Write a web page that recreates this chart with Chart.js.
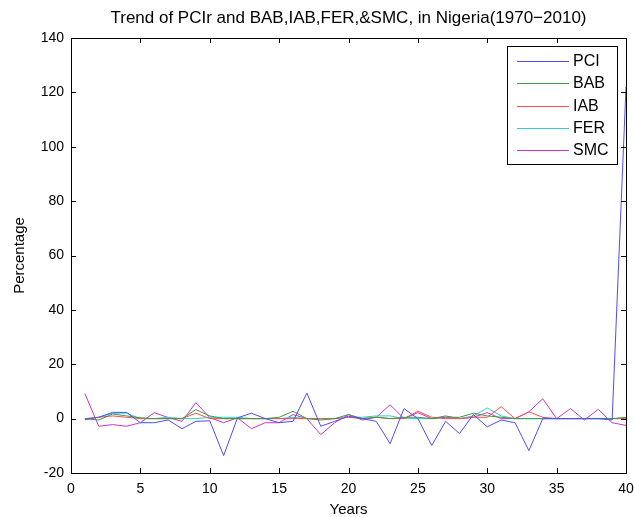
<!DOCTYPE html>
<html>
<head>
<meta charset="utf-8">
<script src="https://cdn.jsdelivr.net/npm/chart.js@4.4.1/dist/chart.umd.min.js"></script>
<style>
  html, body { margin: 0; padding: 0; background: #fff; }
  #wrap { width: 634px; height: 517px; position: relative; }
</style>
</head>
<body>
<div id="wrap"><canvas id="chart"></canvas></div>
<script>
// Years index 1..40 (1970-2010)
const years = Array.from({ length: 40 }, (_, i) => i + 1);

const pci = [-0.4, 0.5, 2.3, 2.3, -1.5, -1.5, -0.5, -3.7, -1, -0.8,
             -13.6, 0.3, 2, 0, -1.5, -1, 9.4, -2.8, -1, 0.9,
             0, -1, -9.2, 3.7, 0, -9.9, -1, -5.5, 1.5, -3,
             -0.5, -1.5, -11.8, 0, 0, 0, 0, 0, -0.5, 122];
const bab = [0, -0.5, 1.7, 1, 0.3, 0, 0, 0, 3.3, 1,
             0, 0, 0, 0, 0.5, 2.7, 0, -0.5, 0, 1.5,
             0, 0.5, 0, 0.5, 0.5, 0, 0.5, 0.5, 2, 1,
             0.5, 0, 0, 0, 0, 0, 0, 0, 0, 0.5];
const iab = [0, 0.5, 1, 0.5, 0, 0, 0, 0, 2, 0,
             0, 0, 0, 0, 0, 0, 0, 0, 0, 0.5,
             0, 0.5, 0, 0, 2.7, 0.5, 0, 0, 0.5, 0.5,
             4.4, 0, 2.5, 0.5, 0, 0, 0, 0, 0, 0];
const fer = [0, 0.5, 2, 2, 0, 0, 0.5, 0, 0, 0.5,
             0.5, 0.5, 0, 0, 0, 0.5, 0, 0, 0, 0.5,
             0.5, 1, 1, 0, 0, 0, 0.5, 0, 1, 3.9,
             1, 0, 0, 0, 0, 0, 0, 0, 0, 0];
const smc = [9.2, -2.8, -2.2, -2.8, -1.5, 2.2, 0.4, -1, 5.9, 0.4,
             -1.5, 0.3, -3.7, -1.5, -1.5, 1.5, 0, -5.9, -1.5, 1.5,
             -0.5, 0.5, 5.1, 0, 2.2, 0, 1, 0, 0.5, 2.2,
             0, 0, 2.5, 7.3, 0, 3.7, -0.5, 3.4, -1.5, -2.5];

const seriesNames = ['PCI', 'BAB', 'IAB', 'FER', 'SMC'];
const seriesValues = [pci, bab, iab, fer, smc];
const seriesColors = ['#4d4dff', '#3f9a3f', '#ff4d4d', '#33cccc', '#cc33cc'];

const chartTitle = 'Trend of PCIr and BAB,IAB,FER,&SMC, in Nigeria(1970\u22122010)';

const FONT = 'Liberation Sans, Arial, Helvetica, sans-serif';

// MATLAB style: title over the axes, box, inward ticks on all four sides, legend box top right
const boxPlugin = {
  id: 'box',
  afterDatasetsDraw(chart) {
    const { ctx, chartArea: a, scales } = chart;
    const len = 5;
    ctx.save();

    ctx.fillStyle = '#000';
    ctx.font = '17px ' + FONT;
    ctx.textAlign = 'center';
    ctx.textBaseline = 'middle';
    ctx.fillText(chartTitle, (a.left + a.right) / 2, 18);
    ctx.textAlign = 'left';

    ctx.strokeStyle = '#000';
    ctx.lineWidth = 1;
    ctx.beginPath();
    scales.x.ticks.forEach(t => {
      const px = Math.round(scales.x.getPixelForValue(t.value)) + 0.5;
      ctx.moveTo(px, a.bottom); ctx.lineTo(px, a.bottom - len);
      ctx.moveTo(px, a.top); ctx.lineTo(px, a.top + len);
    });
    scales.y.ticks.forEach(t => {
      const py = Math.round(scales.y.getPixelForValue(t.value)) + 0.5;
      ctx.moveTo(a.left, py); ctx.lineTo(a.left + len, py);
      ctx.moveTo(a.right, py); ctx.lineTo(a.right - len, py);
    });
    ctx.stroke();
    ctx.strokeRect(Math.round(a.left) + 0.5, Math.round(a.top) + 0.5,
                   Math.round(a.right - a.left), Math.round(a.bottom - a.top));

    // legend
    const lx = Math.round(a.right) - 119, ly = Math.round(a.top) + 8, lw = 110, lh = 118;
    ctx.fillStyle = '#fff';
    ctx.fillRect(lx, ly, lw, lh);
    ctx.strokeRect(lx + 0.5, ly + 0.5, lw, lh);
    ctx.font = '16px ' + FONT;
    chart.data.datasets.forEach((ds, i) => {
      const y = Math.round(ly + 15 + i * 22.3);
      ctx.strokeStyle = ds.borderColor;
      ctx.beginPath();
      ctx.moveTo(lx + 10, y + 0.5); ctx.lineTo(lx + 62, y + 0.5);
      ctx.stroke();
      ctx.fillStyle = '#000';
      ctx.fillText(ds.label, lx + 66, y + 1);
    });
    ctx.restore();
  }
};

new Chart(document.getElementById('chart'), {
  type: 'line',
  data: {
    datasets: seriesNames.map((name, i) => ({
      label: name,
      data: years.map((yr, j) => ({ x: yr, y: seriesValues[i][j] })),
      borderColor: seriesColors[i],
      borderWidth: 1,
      pointRadius: 0,
      tension: 0,
      fill: false
    }))
  },
  options: {
    responsive: true,
    maintainAspectRatio: false,
    animation: false,
    layout: { padding: { top: 38, right: 8, left: 0, bottom: 0 } },
    plugins: {
      legend: { display: false },
      tooltip: { enabled: false },
      title: { display: false }
    },
    scales: {
      x: {
        type: 'linear',
        min: 0, max: 40,
        afterFit(scale) { scale.height = 44; scale.paddingRight = 0; },
        ticks: { stepSize: 5, color: '#000', padding: 8, font: { family: FONT, size: 14 }, maxRotation: 0 },
        grid: { display: false, drawTicks: false },
        border: { display: false },
        title: { display: true, text: 'Years', color: '#000', font: { family: FONT, size: 15, lineHeight: 1 }, padding: { top: 0, bottom: 0 } }
      },
      y: {
        min: -20, max: 140,
        afterFit(scale) { scale.width = 71; scale.paddingTop = 0; },
        ticks: { stepSize: 20, color: '#000', padding: 7, font: { family: FONT, size: 14 } },
        grid: { display: false, drawTicks: false },
        border: { display: false },
        title: { display: true, text: 'Percentage', color: '#000', font: { family: FONT, size: 15 }, padding: { top: 11, bottom: 0 } }
      }
    }
  },
  plugins: [boxPlugin]
});
</script>
</body>
</html>
